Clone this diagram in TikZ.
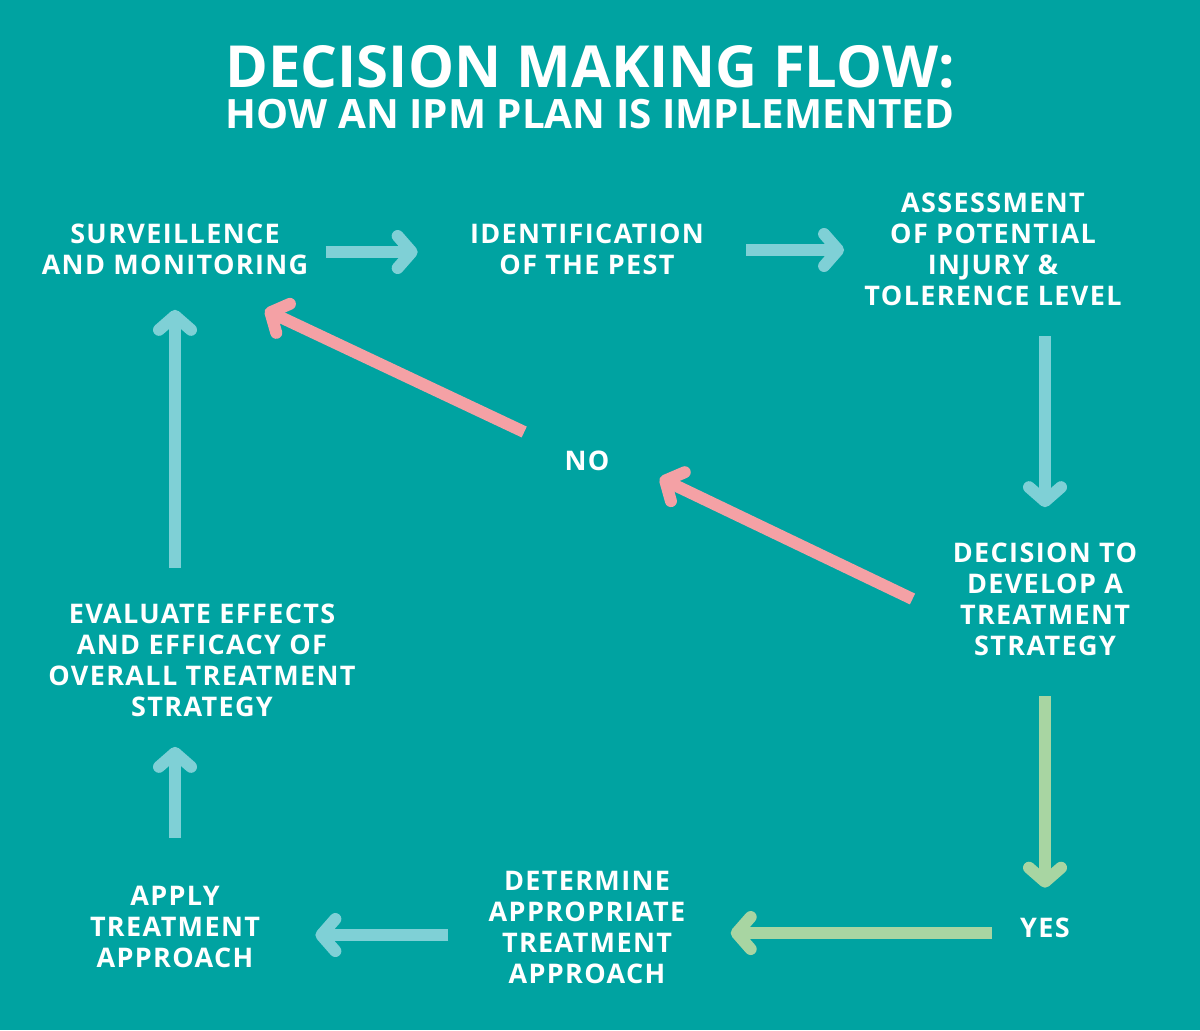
\documentclass[tikz,border=0pt]{standalone}
\usepackage{fontspec}
\setmainfont{Open Sans}
\newfontfamily\lblfont[LetterSpace=5]{Open Sans}
\usetikzlibrary{arrows.meta,calc}
\definecolor{bgteal}{HTML}{00A3A1}
\definecolor{arrblue}{HTML}{7FD0D6}
\definecolor{arrpink}{HTML}{F4A1A5}
\definecolor{arrgreen}{HTML}{A8D5A2}
\tikzset{
  lbl/.style={text=white, align=center, inner sep=0pt, font=\lblfont\bfseries\fontsize{13.5bp}{15.5bp}\selectfont},
  ttl/.style={text=white, inner sep=0pt},
  arr/.style={line width=6bp, -{Straight Barb[length=7bp,width=16bp,line width=6bp,round]}},
  bluearr/.style={arr, draw=arrblue},
  pinkarr/.style={arr, draw=arrpink},
  greenarr/.style={arr, draw=arrgreen},
}
\begin{document}
\begin{tikzpicture}[x=0.5bp,y=-0.5bp]
\fill[bgteal] (0,0) rectangle (1200,1030);
\useasboundingbox (0,0) rectangle (1200,1030);
\node[ttl, font=\bfseries\fontsize{29bp}{31bp}\selectfont] (title1) at (590,67) {DECISION MAKING FLOW:};
\node[ttl, font=\bfseries\fontsize{20.2bp}{22bp}\selectfont] (title2) at (590,114) {HOW AN IPM PLAN IS IMPLEMENTED};

\node[lbl] (surv) at (175,249) {SURVEILLENCE\\AND MONITORING};
\node[lbl] (ident) at (587,249) {IDENTIFICATION\\OF THE PEST};
\node[lbl] (assess) at (993,249) {ASSESSMENT\\OF POTENTIAL\\INJURY \&\\TOLERENCE LEVEL};
\node[lbl] (decide) at (1045,599) {DECISION TO\\DEVELOP A\\TREATMENT\\STRATEGY};
\node[lbl] (no) at (587,461) {NO};
\node[lbl] (yes) at (1045,928) {YES};
\node[lbl] (determine) at (587,927) {DETERMINE\\APPROPRIATE\\TREATMENT\\APPROACH};
\node[lbl] (apply) at (175,927) {APPLY\\TREATMENT\\APPROACH};
\node[lbl] (evaluate) at (202,660) {EVALUATE EFFECTS\\AND EFFICACY OF\\OVERALL TREATMENT\\STRATEGY};

\draw[bluearr] ($(surv.east)+(17,3)$) -- ($(ident.west)+(-52,3)$);
\draw[bluearr] ($(ident.east)+(42,1)$) -- ($(assess.west)+(-20,1)$);
\draw[bluearr] ($(assess.south)+(52,30)$) -- ($(decide.north)+(0,-35)$);
\draw[greenarr] ($(decide.south)+(0,40)$) -- ($(yes.north)+(0,-30)$);
\draw[greenarr] ($(yes.west)+(-28,5)$) -- ($(determine.east)+(45,6)$);
\draw[bluearr] ($(determine.west)+(-40,8)$) -- ($(apply.east)+(55,8)$);
\draw[bluearr] ($(apply.north)+(0,-48)$) -- ($(evaluate.south)+(-27,30)$);
\draw[bluearr] ($(evaluate.north)+(-27,-35)$) -- ($(surv.south)+(0,35)$);
\draw[pinkarr] ($(decide.west)+(-40,0)$) -- ($(no.east)+(50,17)$);
\draw[pinkarr] ($(no.west)+(-40,-29)$) -- ($(surv.south)+(90,35)$);
\end{tikzpicture}
\end{document}
